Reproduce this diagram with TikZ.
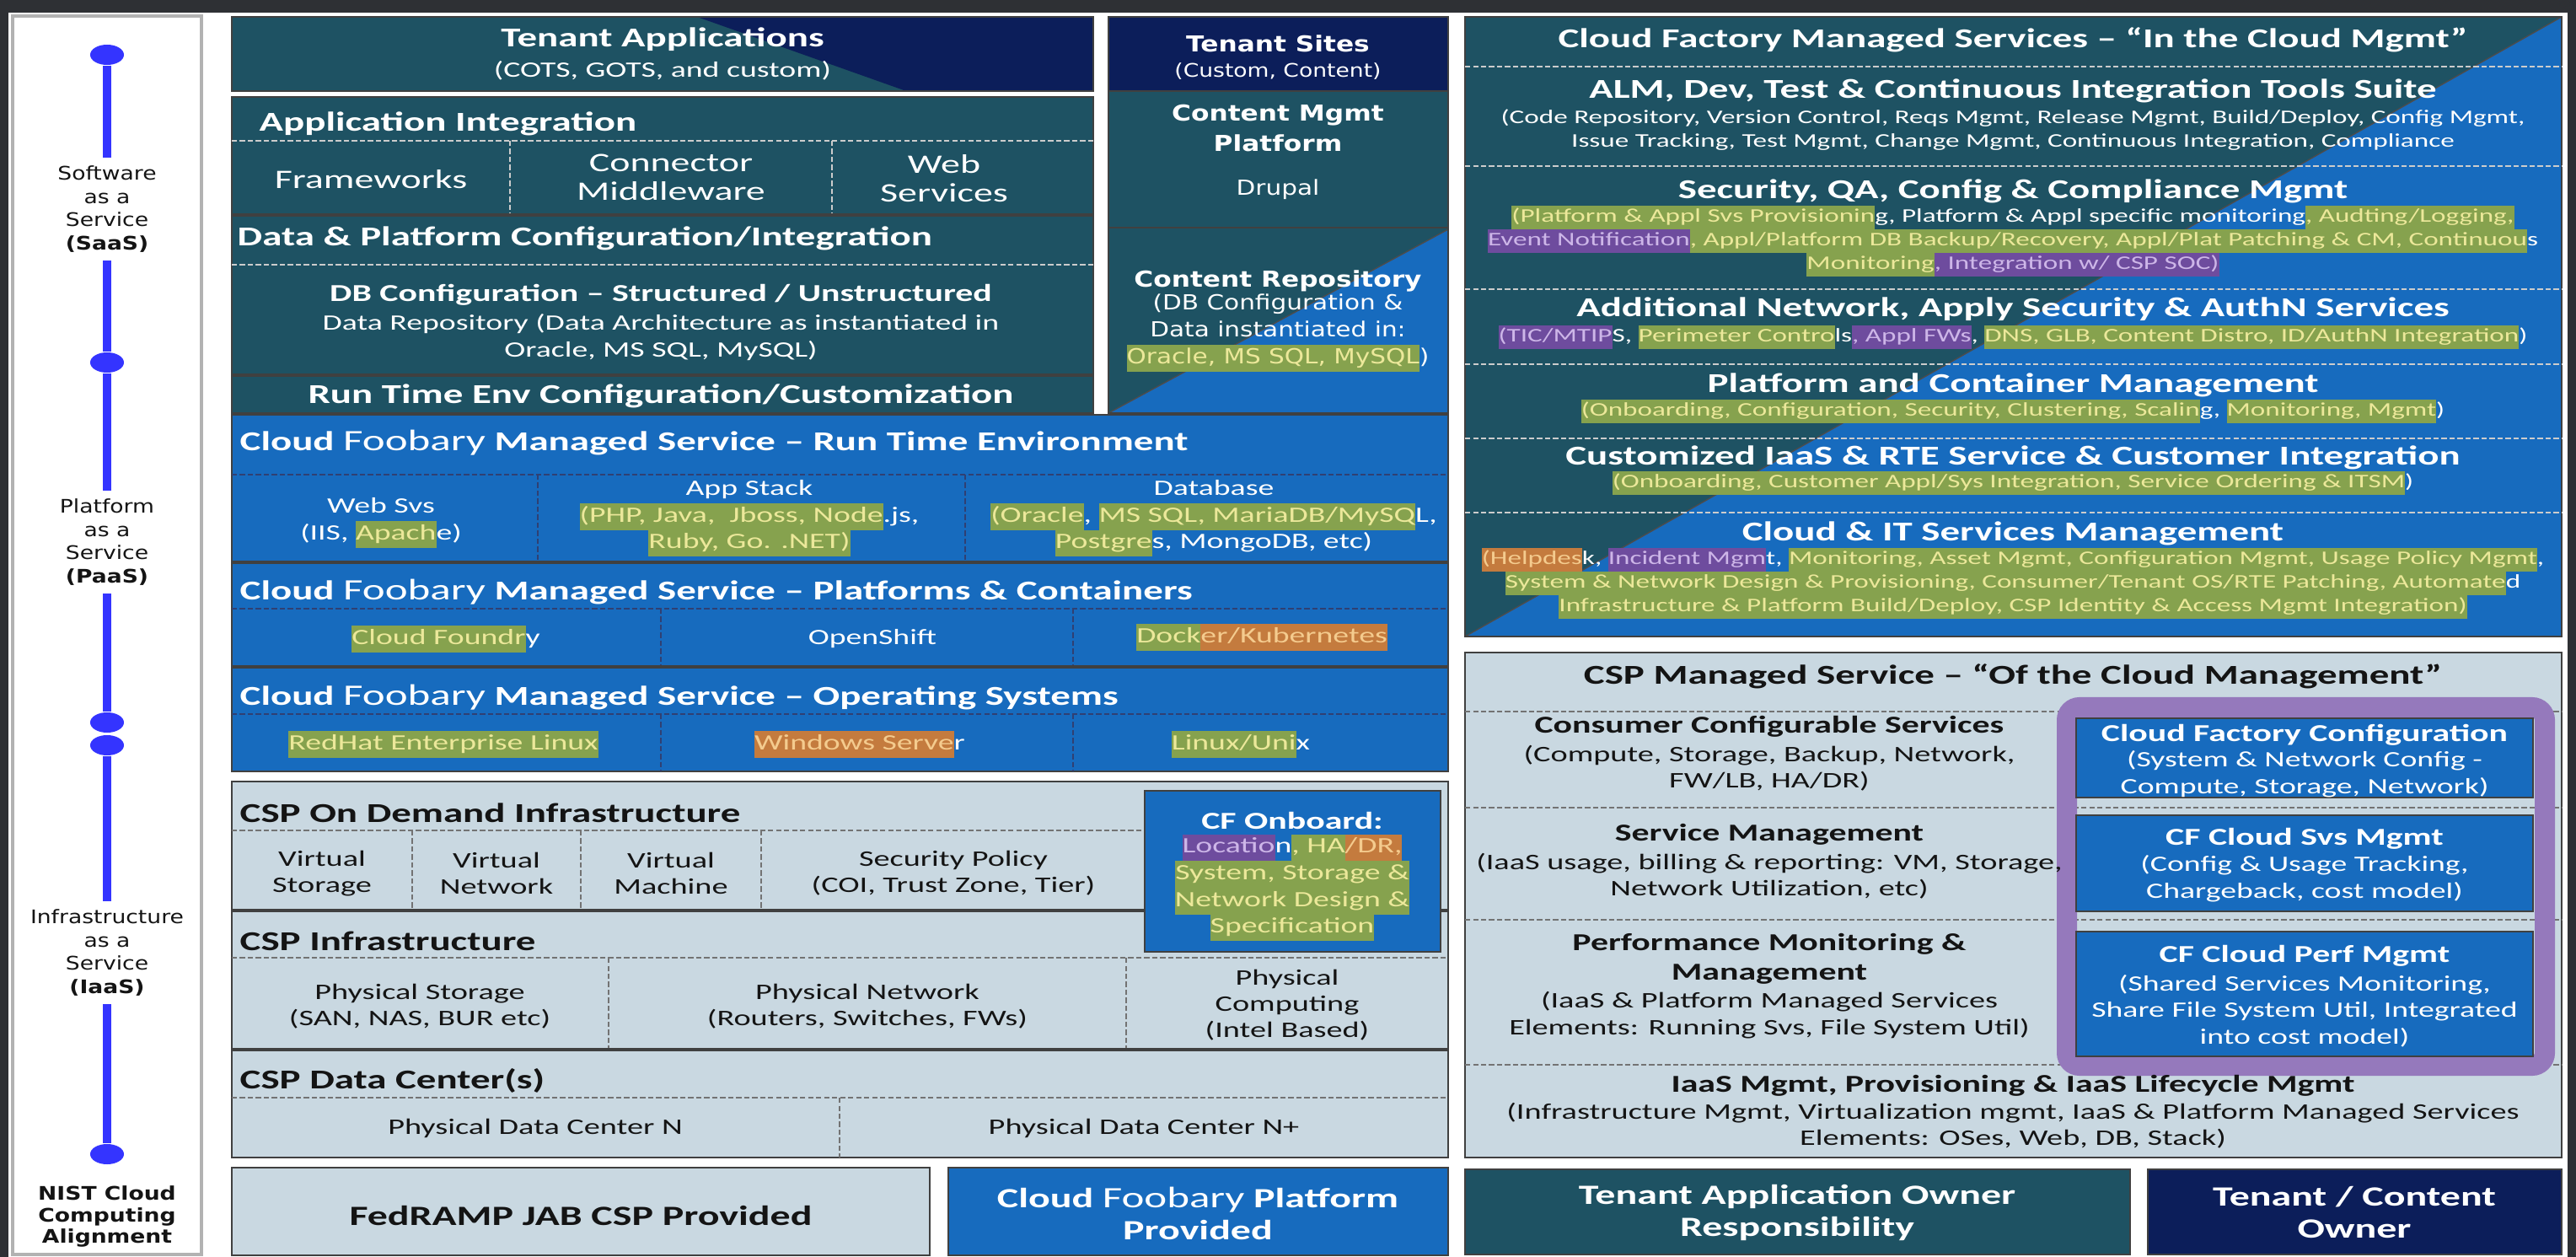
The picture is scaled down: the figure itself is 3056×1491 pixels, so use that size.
\documentclass[tikz,border=0pt]{standalone}
\usepackage{fontspec}
\setmainfont{Carlito}[FakeStretch=1.45]
\newfontfamily\verd{DejaVu Sans}[FakeStretch=1.2]
\usetikzlibrary{positioning, shapes.geometric}

\definecolor{bgdark}{HTML}{2E3034}
\definecolor{cfteal}{HTML}{1E5263}
\definecolor{cfnavy}{HTML}{0C1E5A}
\definecolor{cfblue}{HTML}{176BBE}
\definecolor{csplight}{HTML}{C9D8E1}
\definecolor{nistblue}{HTML}{3434FF}
\definecolor{cfpurple}{HTML}{9579BC}
\definecolor{hlgreen}{HTML}{86A24E}
\definecolor{hlpurple}{HTML}{6E4C9E}
\definecolor{hlorange}{HTML}{C47B3E}
\definecolor{hlgtext}{HTML}{ECE89A}
\definecolor{hlptext}{HTML}{CDB6E8}
\definecolor{hlotext}{HTML}{F4CB8E}
\definecolor{darktext}{HTML}{141414}

\newcommand{\hlg}[1]{{\fboxsep=0pt\colorbox{hlgreen}{\strut\color{hlgtext}#1}}}
\newcommand{\hlp}[1]{{\fboxsep=0pt\colorbox{hlpurple}{\strut\color{hlptext}#1}}}
\newcommand{\hlo}[1]{{\fboxsep=0pt\colorbox{hlorange}{\strut\color{hlotext}#1}}}
\newcommand{\foob}{{\mdseries\fontsize{10}{10}\selectfont Foobary}}
\newcommand{\fhead}{\bfseries\fontsize{9.2}{11}\selectfont}
\newcommand{\fsubhead}{\bfseries\fontsize{8.2}{10}\selectfont}
\newcommand{\flegend}{\bfseries\fontsize{9.4}{10.8}\selectfont}
\newcommand{\fbody}{\fontsize{7.4}{9}\selectfont}
\newcommand{\fsmall}{\fontsize{6.5}{7.9}\selectfont}
\newcommand{\fbig}{\fontsize{9}{9.7}\selectfont}

\tikzset{
	box/.style={draw=black!75, line width=0.5pt},
	lightsep/.style={draw=gray!40, dashed, dash pattern=on 1.8pt off 0.9pt, line width=0.6pt},
	darksep/.style={draw=cfnavy!85, dashed, dash pattern=on 1.8pt off 0.9pt, line width=0.6pt},
	greysep/.style={draw=black!55, dashed, dash pattern=on 1.8pt off 0.9pt, line width=0.6pt},
	solidsep/.style={draw=black!75, line width=0.9pt},
	hd/.style={font=\fhead, text=white, inner sep=0pt},
	dhd/.style={font=\fhead, text=darktext, inner sep=0pt},
	tx/.style={font=\fbody, text=white, align=center, inner sep=0pt},
	dtx/.style={font=\fontsize{7.5}{8.9}\selectfont, text=darktext, align=center, inner sep=0pt},
	stx/.style={font=\fsmall, text=white, align=center, inner sep=0pt},
	vhd/.style={font=\verd\bfseries\fontsize{7.4}{10}\selectfont, text=white, align=center, inner sep=0pt},
	vtx/.style={font=\verd\fontsize{7}{9.1}\selectfont, text=white, align=center, inner sep=0pt},
	nistdot/.style={ellipse, fill=nistblue, minimum width=0.4cm, minimum height=0.24cm, inner sep=0pt},
	nistline/.style={draw=nistblue, line width=3.1pt},
	nisttext/.style={font=\verd\fontsize{6.3}{7.9}\selectfont, text=darktext, align=center, inner sep=2.5pt},
}

\begin{document}
\begin{tikzpicture}[x=0.01cm, y=-0.01cm]
	\useasboundingbox (0,0) rectangle (3056,1491);
	\fill[bgdark] (0,0) rectangle (3056,1491);
	\fill[white] (10,15) rectangle (3046,1491);

	\draw[draw=gray!60, line width=1.2pt] (15,19) rectangle (239,1488);
	\node[nistdot] (dot1) at (127,65) {};
	\node[nistdot] (dot2) at (127,430) {};
	\node[nistdot] (dot3) at (127,857) {};
	\node[nistdot] (dot4) at (127,884) {};
	\node[nistdot] (dot5) at (127,1369) {};
	\node[nisttext] (saas) at (127,248) {Software\\as a\\Service\\\textbf{(SaaS)}};
	\node[nisttext] (paas) at (127,643) {Platform\\as a\\Service\\\textbf{(PaaS)}};
	\node[nisttext] (iaas) at (127,1130) {Infrastructure\\as a\\Service\\\textbf{(IaaS)}};
	\node[nisttext, font=\verd\bfseries\fontsize{6.3}{7.3}\selectfont] (nist) at (127,1443) {NIST Cloud\\Computing\\Alignment};
	\draw[nistline] (dot1) -- (saas);
	\draw[nistline] (saas) -- (dot2);
	\draw[nistline] (dot2) -- (paas);
	\draw[nistline] (paas) -- (dot3);
	\draw[nistline] (dot4) -- (iaas);
	\draw[nistline] (iaas) -- (dot5);

	\fill[cfteal] (275,20) rectangle (1297,108);
	\fill[cfnavy] (827,20) -- (1297,20) -- (1297,108) -- (1075,108) -- cycle;
	\draw[box] (275,20) rectangle (1297,108);
	\node[hd] (tapps) at (786,47) {Tenant Applications};
	\node[tx] (tappsub) at (786,84) {(COTS, GOTS, and custom)};

	\draw[box, fill=cfteal] (275,115) rectangle (1297,490);
	\node[hd, anchor=west] (appint) at (307,147) {Application Integration};
	\draw[lightsep] (275,167) -- (1297,167);
	\draw[lightsep] (605,167) -- (605,255);
	\draw[lightsep] (987,167) -- (987,255);
	\node[tx, font=\fbig] (frmwk) at (440,213) {Frameworks};
	\node[tx, font=\fbig] (connmw) at (796,210) {Connector\\Middleware};
	\node[tx, font=\fbig] (websvc) at (1120,212) {Web\\Services};
	\draw[solidsep] (275,255) -- (1297,255);
	\node[hd, anchor=west] (dpci) at (281,283) {Data \& Platform Configuration/Integration};
	\draw[lightsep] (275,314) -- (1297,314);
	\node[hd, font=\fsubhead] (dbconf) at (784,350) {DB Configuration – Structured / Unstructured};
	\node[tx] (dbrepo) at (784,400) {Data Repository (Data Architecture as instantiated in\\Oracle, MS SQL, MySQL)};
	\draw[solidsep] (275,445) -- (1297,445);
	\node[hd] (rtecfg) at (784,470) {Run Time Env Configuration/Customization};

	\fill[cfnavy] (1315,20) rectangle (1718,108);
	\fill[cfteal] (1315,108) rectangle (1718,490);
	\fill[cfblue] (1315,490) -- (1718,272) -- (1718,490) -- cycle;
	\draw[black!70, line width=0.4pt] (1315,490) -- (1718,272);
	\draw[box] (1315,20) rectangle (1718,108);
	\draw[box] (1315,108) rectangle (1718,270);
	\draw[box] (1315,270) rectangle (1718,490);
	\node[vhd] (tsites) at (1516,52) {Tenant Sites};
	\node[vtx, font=\verd\fontsize{6.3}{7.5}\selectfont] (tsitesub) at (1516,85) {(Custom, Content)};
	\node[vhd] (cmplat) at (1516,152) {Content Mgmt\\Platform};
	\node[vtx] (drupal) at (1516,225) {Drupal};
	\node[vhd] (crepo) at (1516,333) {Content Repository};
	\node[vtx] (crepob) at (1516,395) {(DB Configuration \&\\Data instantiated in:\\\hlg{Oracle, MS SQL, MySQL})};

	\draw[box, fill=cfblue] (275,492) rectangle (1718,915);
	\node[hd, anchor=west] (msrte) at (284,525) {Cloud\hspace{3pt}\foob\hspace{3pt}Managed Service – Run Time Environment};
	\draw[darksep] (275,563) -- (1718,563);
	\draw[darksep] (638,563) -- (638,667);
	\draw[darksep] (1145,563) -- (1145,667);
	\node[tx] (websvs) at (452,620) {Web Svs\\(IIS, \hlg{Apach}e)};
	\node[tx] (appstack) at (889,615) {App Stack\\\hlg{(PHP, Java,\ \ Jboss, Node}.js,\\\hlg{Ruby, Go. .NET)}};
	\node[tx] (dbase) at (1440,615) {Database\\\hlg{(Oracle}, \hlg{MS SQL, MariaDB/MySQ}L,\\\hlg{Postgre}s, MongoDB, etc)};
	\draw[solidsep] (275,667) -- (1718,667);
	\node[hd, anchor=west] (mspc) at (284,702) {Cloud\hspace{3pt}\foob\hspace{3pt}Managed Service – Platforms \& Containers};
	\draw[darksep] (275,722) -- (1718,722);
	\draw[darksep] (784,722) -- (784,791);
	\draw[darksep] (1273,722) -- (1273,791);
	\node[tx] (cfoundry) at (529,758) {\hlg{Cloud Foundr}y};
	\node[tx] (oshift) at (1035,758) {OpenShift};
	\node[tx] (dockkub) at (1497,756) {\hlg{Dock}\hlo{er/Kubernetes}};
	\draw[solidsep] (275,791) -- (1718,791);
	\node[hd, anchor=west] (msos) at (284,827) {Cloud\hspace{3pt}\foob\hspace{3pt}Managed Service – Operating Systems};
	\draw[darksep] (275,847) -- (1718,847);
	\draw[darksep] (784,847) -- (784,915);
	\draw[darksep] (1273,847) -- (1273,915);
	\node[tx] (rhel) at (526,883) {\hlg{RedHat Enterprise Linux}};
	\node[tx] (winsrv) at (1020,883) {\hlo{Windows Serve}r};
	\node[tx] (linux) at (1472,883) {\hlg{Linux/Uni}x};

	\draw[box, fill=csplight] (275,927) rectangle (1718,1373);
	\node[dhd, anchor=west] (cspod) at (284,964) {CSP On Demand Infrastructure};
	\draw[greysep] (275,985) -- (1358,985);
	\draw[greysep] (489,985) -- (489,1080);
	\draw[greysep] (689,985) -- (689,1080);
	\draw[greysep] (903,985) -- (903,1080);
	\node[dtx] (vstor) at (382,1036) {Virtual\\Storage};
	\node[dtx] (vnet) at (589,1036) {Virtual\\Network};
	\node[dtx] (vmach) at (796,1036) {Virtual\\Machine};
	\node[dtx] (secpol) at (1131,1036) {Security Policy\\(COI, Trust Zone, Tier)};
	\draw[solidsep] (275,1080) -- (1718,1080);
	\node[dhd, anchor=west] (cspinf) at (284,1116) {CSP Infrastructure};
	\draw[greysep] (275,1136) -- (1718,1136);
	\draw[greysep] (722,1136) -- (722,1245);
	\draw[greysep] (1336,1136) -- (1336,1245);
	\node[dtx] (pstor) at (498,1194) {Physical Storage\\(SAN, NAS, BUR etc)};
	\node[dtx] (pnet) at (1029,1194) {Physical Network\\(Routers, Switches, FWs)};
	\node[dtx] (pcomp) at (1527,1192) {Physical\\Computing\\(Intel Based)};
	\draw[solidsep] (275,1245) -- (1718,1245);
	\node[dhd, anchor=west] (cspdc) at (284,1282) {CSP Data Center(s)};
	\draw[greysep] (275,1302) -- (1718,1302);
	\draw[greysep] (996,1302) -- (996,1373);
	\node[dtx] (pdcn) at (635,1338) {Physical Data Center N};
	\node[dtx] (pdcnplus) at (1357,1338) {Physical Data Center N+};
	\draw[box, fill=cfblue] (1358,938) rectangle (1709,1129);
	\node[hd, font=\fsubhead] (onboard) at (1533,973) {CF Onboard:};
	\node[tx] (onboardb) at (1533,1053) {\hlp{Locatio}n\hlg{, HA}\hlo{/DR,}\\\hlg{System, Storage \&}\\\hlg{Network Design \&}\\\hlg{Specification}};

	\draw[box, fill=csplight] (275,1385) rectangle (1103,1489);
	\node[dhd, font=\flegend] (fedramp) at (689,1442) {FedRAMP JAB CSP Provided};
	\draw[box, fill=cfblue] (1125,1385) rectangle (1718,1489);
	\node[hd, font=\flegend, align=center] (cfplat) at (1421,1439) {Cloud\hspace{3pt}\foob\hspace{3pt}Platform\\Provided};

	\fill[cfteal] (1738,20) rectangle (3039,755);
	\fill[cfblue] (1738,755) -- (3039,20) -- (3039,755) -- cycle;
	\draw[black!70, line width=0.4pt] (1738,755) -- (3039,20);
	\draw[box] (1738,20) rectangle (3039,755);
	\node[hd] (cfms) at (2388,47) {Cloud Factory Managed Services – “In the Cloud Mgmt”};
	\draw[lightsep] (1738,79) -- (3039,79);
	\node[hd] (alm) at (2388,108) {ALM, Dev, Test \& Continuous Integration Tools Suite};
	\node[stx] (almb) at (2388,154) {(Code Repository, Version Control, Reqs Mgmt, Release Mgmt, Build/Deploy, Config Mgmt,\\Issue Tracking, Test Mgmt, Change Mgmt, Continuous Integration, Compliance};
	\draw[lightsep] (1738,197) -- (3039,197);
	\node[hd] (secqa) at (2388,227) {Security, QA, Config \& Compliance Mgmt};
	\node[stx] (secqab) at (2388,286) {\hlg{(Platform \& Appl Svs Provisionin}g, Platform \& Appl specific monitoring\hlg{, Audting/Logging,}\\\hlp{Event Notification}\hlg{, Appl/Platform DB Backup/Recovery, Appl/Plat Patching \& CM, Continuou}s\\\hlg{Monitoring}\hlp{, Integration w/ CSP SOC)}};
	\draw[lightsep] (1738,343) -- (3039,343);
	\node[hd] (addnet) at (2388,367) {Additional Network, Apply Security \& AuthN Services};
	\node[stx] (addnetb) at (2388,400) {\hlp{(TIC/MTIP}S, \hlg{Perimeter Contro}ls\hlp{, Appl FWs}, \hlg{DNS, GLB, Content Distro, ID/AuthN Integration})};
	\draw[lightsep] (1738,432) -- (3039,432);
	\node[hd] (pcmgmt) at (2388,457) {Platform and Container Management};
	\node[stx] (pcmgmtb) at (2388,488) {\hlg{(Onboarding, Configuration, Security, Clustering, Scalin}g, \hlg{Monitoring, Mgmt})};
	\draw[lightsep] (1738,520) -- (3039,520);
	\node[hd] (custiaas) at (2388,543) {Customized IaaS \& RTE Service \& Customer Integration};
	\node[stx] (custiaasb) at (2388,573) {\hlg{(Onboarding, Customer Appl/Sys Integration, Service Ordering \& ITSM})};
	\draw[lightsep] (1738,608) -- (3039,608);
	\node[hd] (citsm) at (2388,633) {Cloud \& IT Services Management};
	\node[stx] (citsmb) at (2388,692) {\hlo{(Helpdes}k, \hlp{Incident Mgm}t, \hlg{Monitoring, Asset Mgmt, Configuration Mgmt, Usage Policy Mgmt},\\\hlg{System \& Network Design \& Provisioning, Consumer/Tenant OS/RTE Patching, Automate}d\\\hlg{Infrastructure \& Platform Build/Deploy, CSP Identity \& Access Mgmt Integration)}};

	\draw[box, fill=csplight] (1738,774) rectangle (3039,1373);
	\node[dhd] (cspms) at (2388,802) {CSP Managed Service – “Of the Cloud Management”};
	\draw[greysep] (1738,844) -- (3039,844);
	\draw[greysep] (1738,958) -- (3039,958);
	\draw[greysep] (1738,1091) -- (3039,1091);
	\draw[greysep] (1738,1263) -- (3039,1263);
	\draw[cfpurple, line width=0.24cm, rounded corners=0.15cm] (2452,839) rectangle (3019,1264);
	\node[dhd, font=\fsubhead] (ccsvc) at (2099,862) {Consumer Configurable Services};
	\node[dtx] (ccsvcb) at (2099,911) {(Compute, Storage, Backup, Network,\\FW/LB, HA/DR)};
	\node[dhd, font=\fsubhead] (svcmgmt) at (2099,990) {Service Management};
	\node[dtx] (svcmgmtb) at (2099,1039) {(IaaS usage, billing \& reporting: VM, Storage,\\Network Utilization, etc)};
	\node[dhd, font=\fsubhead, align=center] (perfmon) at (2099,1137) {Performance Monitoring \&\\Management};
	\node[dtx] (perfmonb) at (2099,1204) {(IaaS \& Platform Managed Services\\Elements: Running Svs, File System Util)};
	\node[dhd, font=\fsubhead] (iaasmgmt) at (2388,1288) {IaaS Mgmt, Provisioning \& IaaS Lifecycle Mgmt};
	\node[dtx] (iaasmgmtb) at (2388,1335) {(Infrastructure Mgmt, Virtualization mgmt, IaaS \& Platform Managed Services\\Elements: OSes, Web, DB, Stack)};
	\draw[box, fill=cfblue] (2463,852) rectangle (3005,946);
	\node[hd, font=\fsubhead] (cfconf) at (2734,872) {Cloud Factory Configuration};
	\node[tx] (cfconfb) at (2734,918) {(System \& Network Config -\\Compute, Storage, Network)};
	\draw[box, fill=cfblue] (2463,967) rectangle (3005,1081);
	\node[hd, font=\fsubhead] (cfsvs) at (2734,995) {CF Cloud Svs Mgmt};
	\node[tx] (cfsvsb) at (2734,1042) {(Config \& Usage Tracking,\\Chargeback, cost model)};
	\draw[box, fill=cfblue] (2463,1105) rectangle (3005,1253);
	\node[hd, font=\fsubhead] (cfperf) at (2734,1134) {CF Cloud Perf Mgmt};
	\node[tx] (cfperfb) at (2734,1199) {(Shared Services Monitoring,\\Share File System Util, Integrated\\into cost model)};

	\draw[box, fill=cfteal] (1738,1387) rectangle (2527,1488);
	\node[hd, font=\flegend, align=center] (taowner) at (2132,1438) {Tenant Application Owner\\Responsibility};
	\draw[box, fill=cfnavy] (2548,1387) rectangle (3039,1488);
	\node[hd, font=\flegend, align=center] (tcowner) at (2793,1438) {Tenant / Content\\Owner};
\end{tikzpicture}
\end{document}
